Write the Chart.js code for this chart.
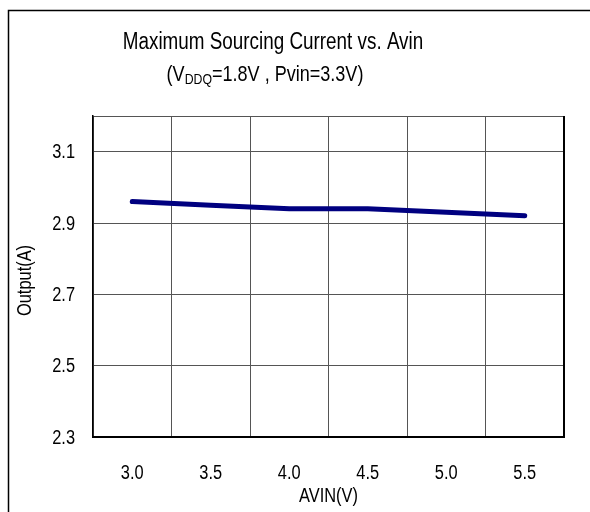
<!DOCTYPE html>
<html>
<head>
<meta charset="utf-8">
<script src="https://cdn.jsdelivr.net/npm/chart.js@4/dist/chart.umd.min.js"></script>
<style>
  html, body { margin: 0; padding: 0; background: #fff; }
  #wrap { width: 590px; height: 512px; }
</style>
</head>
<body>
<div id="wrap"><canvas id="chart" width="590" height="512"></canvas></div>
<script>
const avin = ['3.0', '3.5', '4.0', '4.5', '5.0', '5.5'];
const output = [2.96, 2.95, 2.94, 2.94, 2.93, 2.92];
const yTicks = [2.3, 2.5, 2.7, 2.9, 3.1, 3.2];
const yLabels = ['2.3', '2.5', '2.7', '2.9', '3.1', ''];

const FONT = "'Liberation Sans', Arial, sans-serif";
const SQUEEZE = 0.82; // the original text is narrow

function txt(ctx, s, x, y, size, align, rot) {
  ctx.save();
  ctx.translate(x, y);
  if (rot) ctx.rotate(rot);
  ctx.scale(SQUEEZE, 1);
  ctx.font = size + 'px ' + FONT;
  ctx.textAlign = align;
  ctx.textBaseline = 'middle';
  ctx.fillText(s, 0, 0);
  ctx.restore();
}

// outer frame, titles with subscript, axis labels, black right edge of the plot
const decor = {
  id: 'decor',
  beforeDraw(chart) {
    const ctx = chart.ctx;
    ctx.save();
    ctx.strokeStyle = '#000';
    ctx.lineWidth = 1.5;
    ctx.strokeRect(8.5, 10.5, 700, 700);
    ctx.restore();
  },
  afterDraw(chart) {
    const ctx = chart.ctx;
    const a = chart.chartArea;
    const xs = chart.scales.x, ys = chart.scales.y;
    ctx.save();
    ctx.strokeStyle = '#000';
    ctx.lineWidth = 2;
    ctx.beginPath();
    ctx.moveTo(a.right, a.top);
    ctx.lineTo(a.right, a.bottom + 1);
    ctx.stroke();
    ctx.fillStyle = '#000';

    yTicks.forEach((v, i) => txt(ctx, yLabels[i], 75, ys.getPixelForValue(v) + 1, 20, 'right'));
    avin.forEach((c, i) => txt(ctx, c, xs.getPixelForTick(i), 473, 20, 'center'));
    txt(ctx, 'AVIN(V)', (a.left + a.right) / 2, 496, 20, 'center');
    txt(ctx, 'Output(A)', 25, (a.top + a.bottom) / 2 + 4, 20, 'center', -Math.PI / 2);

    txt(ctx, 'Maximum Sourcing Current vs. Avin', 273, 43, 23, 'center');

    const parts = [
      ['(V', 22, 0],
      ['DDQ', 15, 5],
      ['=1.8V , Pvin=3.3V)', 22, 0]
    ];
    let total = 0;
    parts.forEach(p => { ctx.font = p[1] + 'px ' + FONT; total += ctx.measureText(p[0]).width * SQUEEZE; });
    let x = 265 - total / 2;
    parts.forEach(p => {
      txt(ctx, p[0], x, 75 + p[2], p[1], 'left');
      ctx.font = p[1] + 'px ' + FONT;
      x += ctx.measureText(p[0]).width * SQUEEZE;
    });
    ctx.restore();
  }
};

new Chart(document.getElementById('chart'), {
  type: 'line',
  data: {
    labels: avin,
    datasets: [{
      data: output,
      borderColor: '#000080',
      borderWidth: 5,
      borderCapStyle: 'round',
      pointRadius: 0,
      tension: 0,
      fill: false
    }]
  },
  options: {
    responsive: false,
    animation: false,
    devicePixelRatio: 1,
    layout: { padding: { left: 0, right: 26, top: 116, bottom: 0 } },
    plugins: {
      legend: { display: false },
      tooltip: { enabled: false }
    },
    scales: {
      x: {
        type: 'category',
        offset: true,
        grid: { offset: true, color: '#555', lineWidth: 1, drawTicks: false },
        border: { color: '#000', width: 2 },
        ticks: { display: false },
        afterFit(s) { s.height = 75; }
      },
      y: {
        type: 'linear',
        min: 2.3,
        max: 3.2,
        afterBuildTicks(s) { s.ticks = yTicks.map(v => ({ value: v })); },
        grid: { color: '#555', lineWidth: 1, drawTicks: false },
        border: { color: '#000', width: 1.5 },
        ticks: { display: false },
        afterFit(s) { s.width = 93; }
      }
    }
  },
  plugins: [decor]
});
</script>
</body>
</html>
